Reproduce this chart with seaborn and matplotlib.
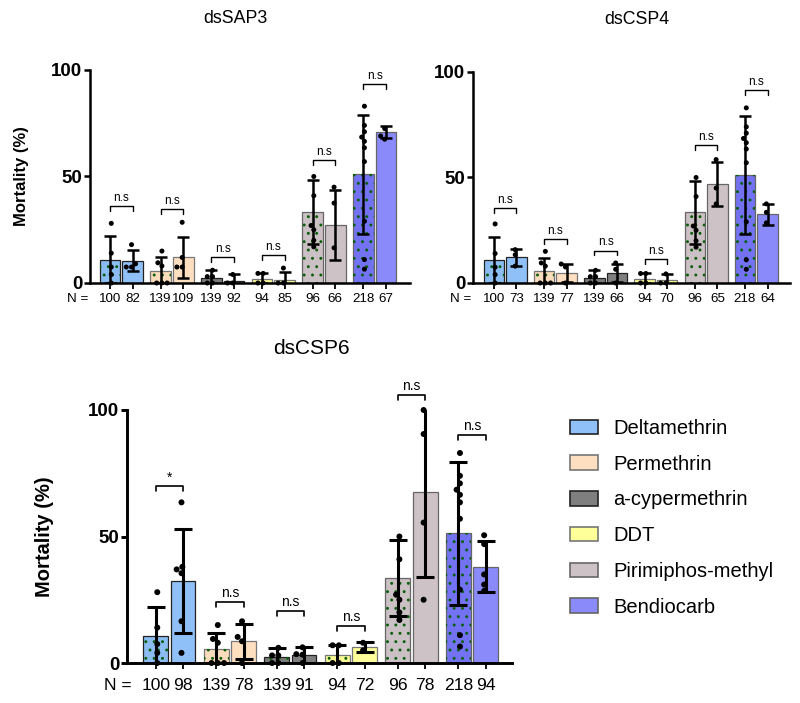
import numpy as np
import pandas as pd
import matplotlib
matplotlib.use("Agg")
import matplotlib.pyplot as plt
import seaborn as sns
from matplotlib.patches import Patch, Rectangle

insecticides = ["Deltamethrin", "Permethrin", "a-cypermethrin", "DDT", "Pirimiphos-methyl", "Bendiocarb"]
groups = ["Control", "dsRNA"]
colors = ["#8FC0F7", "#FEDFC0", "#7F7F7F", "#FFFF9A", "#CDC2C6", "#8A8AFB"]
ctrl_colors = ["#8CBDF2", "#FADBBB", "#7B7B7B", "#FAFA95", "#CBC0C4", "#7272F2"]
edge_colors = ["#222222", "#777777", "#222222", "#777777", "#666666", "#666666"]
dot_green = "#0b5e0b"

# values interleaved: control, dsRNA for each insecticide
sap3_n = [100, 82, 139, 109, 139, 92, 94, 85, 96, 66, 218, 67]
sap3_mean = [11, 10.5, 5.5, 12, 2.5, 1, 1.8, 1.4, 33.5, 27.2, 51, 70.8]
sap3_sd = [11, 5, 6.5, 9.7, 3.8, 3, 2.9, 3.8, 15, 16.6, 28, 2.8]
sap3_dots = [[28, 14, 7.5, 4, 0], [18, 9, 7.5, 7.5],
             [15, 9.5, 8, 0, 0, 0], [28.5, 12, 7.5, 7.5],
             [6, 3, 3, 0, 0], [4, 0, 0],
             [4.5, 4.5, 0, 0], [7, 0, 0],
             [50, 41, 27, 25, 20, 17], [45, 37.5, 16.5],
             [83, 74, 71, 68.5, 66.5, 63.5, 57, 29, 11, 6.5], [72.5, 69, 67.5]]
sap3_bracket = [36.3, 34.6, 12, 13, 57.7, 93.3]
sap3_sig = ["n.s", "n.s", "n.s", "n.s", "n.s", "n.s"]

csp4_n = [100, 73, 139, 77, 139, 66, 94, 70, 96, 65, 218, 64]
csp4_mean = [11, 12.2, 5.5, 4.7, 2.5, 4.7, 1.8, 1.2, 33.5, 46.8, 51, 32.6]
csp4_sd = [11, 4, 6.5, 4.4, 3.8, 4.2, 2.9, 3.1, 15, 10.4, 28, 5]
csp4_dots = [[28, 14, 7.5, 4, 0], [15.8, 13.4, 8],
             [15, 9.5, 8, 0, 0, 0], [9, 7.6, 0],
             [6, 3, 3, 0, 0], [9.5, 6.5, 0],
             [4.5, 4.5, 0, 0], [4.3, 0, 0],
             [50, 41, 27, 25, 20, 17], [58.5, 45, 37.5],
             [83, 74, 71, 68.5, 66.5, 63.5, 57, 29, 11, 6.5], [37.5, 33.5, 28.5]]
csp4_bracket = [35.7, 20.9, 15.4, 11.3, 65.4, 91.5]
csp4_sig = ["n.s", "n.s", "n.s", "n.s", "n.s", "n.s"]

csp6_n = [100, 98, 139, 78, 139, 91, 94, 72, 96, 78, 218, 94]
csp6_mean = [10.5, 32.4, 5.5, 8.6, 2.5, 3, 3.1, 6.3, 33.5, 67.5, 51.3, 38.1]
csp6_sd = [11.5, 20.5, 6.5, 7, 3.5, 3.2, 3.9, 1.9, 15, 33.5, 28.3, 10]
csp6_dots = [[28, 14, 7.5, 4, 0], [63.5, 38, 37, 35.5, 16.5, 4],
             [15, 9.5, 8, 0, 0, 0], [16.5, 10.3, 8.6, 0],
             [6, 3, 3, 0, 0], [6.2, 3.5, 3.3, 0],
             [7, 7, 0, 0], [8, 5],
             [50, 41, 27, 25, 20, 17], [100, 90.5, 55.5, 25],
             [83, 74, 71, 68.5, 66.5, 63.5, 57, 29, 11, 6.5], [50.5, 47, 35, 31, 28.5]]
csp6_bracket = [69.8, 24.1, 20.6, 14.5, 106, 90.1]
csp6_sig = ["*", "n.s", "n.s", "n.s", "n.s", "n.s"]


def draw_panel(ax, title, n_vals, means, sds, dots, brackets, sigs, st):
    mean_df = pd.DataFrame({"insecticide": np.repeat(insecticides, 2),
                            "group": groups * 6, "mean": means})
    rows = []
    for k, vals in enumerate(dots):
        for v in vals:
            rows.append((insecticides[k // 2], groups[k % 2], v))
    dot_df = pd.DataFrame(rows, columns=["insecticide", "group", "value"])

    sns.barplot(data=mean_df, x="insecticide", y="mean", hue="group", order=insecticides,
                hue_order=groups, width=0.9, gap=0.09, errorbar=None, legend=False, ax=ax,
                linewidth=0.9)
    bars = sorted(ax.patches, key=lambda p: p.get_x())
    centers = [p.get_x() + p.get_width() / 2 for p in bars]
    for k, p in enumerate(bars):
        i = k // 2
        p.set_edgecolor(edge_colors[i])
        if k % 2 == 0:
            p.set_facecolor(ctrl_colors[i])
            # green dotted pattern on control bars
            dots_patch = Rectangle((p.get_x(), p.get_y()), p.get_width(), p.get_height(),
                                   facecolor="none", edgecolor=dot_green, lw=0, hatch="..",
                                   zorder=p.get_zorder() + 0.1)
            if hasattr(dots_patch, "set_hatchcolor"):
                dots_patch.set_hatchcolor(dot_green)
            ax.add_patch(dots_patch)
        else:
            p.set_facecolor(colors[i])

    ax.errorbar(centers, means, yerr=sds, fmt="none", ecolor="black", elinewidth=st["elw"],
                capsize=st["cap"], capthick=st["elw"], zorder=4)

    sns.swarmplot(data=dot_df, x="insecticide", y="value", hue="group", order=insecticides,
                  hue_order=groups, dodge=True, palette=["black", "black"], size=st["dot"],
                  legend=False, ax=ax, zorder=5, clip_on=False)

    for i in range(6):
        x1, x2 = centers[2 * i], centers[2 * i + 1]
        y = brackets[i]
        d = st["drop"]
        ax.plot([x1, x1, x2, x2], [y - d, y, y, y - d], color="black", lw=st["blw"], clip_on=False)
        ax.annotate(sigs[i], xy=((x1 + x2) / 2, y), xytext=(0, 1.5), textcoords="offset points",
                    ha="center", va="bottom", fontsize=st["ns"], annotation_clip=False)

    ax.set_xlim(st["xlim"])
    ax.set_ylim(0, 100)
    ax.set_yticks([0, 50, 100])
    ax.set_xticks(centers)
    ax.set_xticklabels(n_vals)
    ax.set_xlabel("")
    if st["ylabel"]:
        ax.set_ylabel("Mortality (%)", fontweight="bold", fontsize=st["ylab"])
        ax.yaxis.set_label_coords(st["ylab_x"], 0.5)
    else:
        ax.set_ylabel("")
    sns.despine(ax=ax)
    for side in ["left", "bottom"]:
        ax.spines[side].set_linewidth(st["spine"])
    ax.tick_params(axis="y", length=4, width=st["spine"], pad=1.5, labelsize=st["ytick"])
    ax.tick_params(axis="x", length=4, width=1.3, pad=st["xpad"], labelsize=st["ntick"])
    for lbl in ax.get_yticklabels():
        lbl.set_fontweight("bold")
    ax.annotate("N =", xy=(0, 0), xycoords="axes fraction", xytext=(st["nx"], -(4 + st["xpad"])),
                textcoords="offset points", ha="right", va="top", fontsize=st["ntick"])
    ax.text(st["tx"], st["ty"], title, transform=ax.transAxes, ha="center", va="center",
            fontsize=st["title"])


sns.set_style("ticks")
plt.rcParams["font.family"] = ["Liberation Sans", "DejaVu Sans"]
plt.rcParams["hatch.linewidth"] = 0.9
plt.rcParams["hatch.color"] = dot_green
for key in ["text.color", "axes.labelcolor", "xtick.color", "ytick.color"]:
    plt.rcParams[key] = "black"

fig = plt.figure(figsize=(8, 7.03), dpi=100)
W, H = 800, 703

small = dict(elw=1.8, cap=4.3, dot=3.6, drop=2.3, blw=1.0, ns=8.5, ylab=12, ylab_x=-0.19,
             spine=1.8, ytick=13.5, ntick=9.6, xpad=3.5, nx=-1, title=12.8, ty=1.24, ylabel=True)
big = dict(elw=2.2, cap=6.3, dot=4.3, drop=2.0, blw=1.2, ns=10, ylab=14.5, ylab_x=-0.19,
           spine=2.1, ytick=13.5, ntick=12.6, xpad=6.5, nx=3, title=15, ty=1.245, ylabel=True)

ax1 = fig.add_axes([90 / W, 1 - 283 / H, 320 / W, 213 / H])
draw_panel(ax1, "dsSAP3", sap3_n, sap3_mean, sap3_sd, sap3_dots, sap3_bracket, sap3_sig,
           dict(small, xlim=(-0.62, 5.70), tx=0.453))

ax2 = fig.add_axes([473 / W, 1 - 283 / H, 317 / W, 211 / H])
draw_panel(ax2, "dsCSP4", csp4_n, csp4_mean, csp4_sd, csp4_dots, csp4_bracket, csp4_sig,
           dict(small, xlim=(-0.64, 5.67), tx=0.517, ty=1.25, ylabel=False))

ax3 = fig.add_axes([127 / W, 1 - 663 / H, 385 / W, 253 / H])
draw_panel(ax3, "dsCSP6", csp6_n, csp6_mean, csp6_sd, csp6_dots, csp6_bracket, csp6_sig,
           dict(big, xlim=(-0.70, 5.66), tx=0.48))

for ax in (ax1, ax2, ax3):
    for side in ["left", "bottom"]:
        ax.spines[side].set_color("black")

handles = [Patch(facecolor=c, edgecolor=e, lw=1.2) for c, e in zip(colors, edge_colors)]
fig.legend(handles, insecticides, loc="upper left", bbox_to_anchor=(570 / W, 1 - 419 / H),
           frameon=False, fontsize=14.5, handlelength=1.4, handleheight=0.72,
           handletextpad=0.75, labelspacing=0.83, borderpad=0, borderaxespad=0)

fig.savefig("out.png", dpi=100)
